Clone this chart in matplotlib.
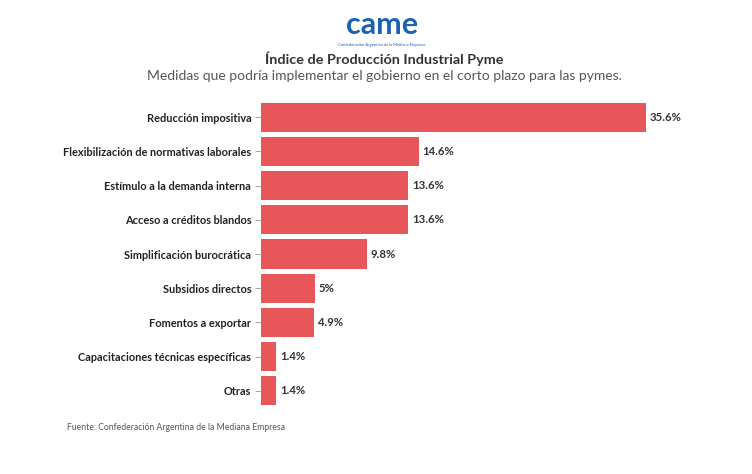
import matplotlib.pyplot as plt

plt.rcParams['font.family'] = ['Lato', 'DejaVu Sans']

categories = [
    "Reducción impositiva",
    "Flexibilización de normativas laborales",
    "Estímulo a la demanda interna",
    "Acceso a créditos blandos",
    "Simplificación burocrática",
    "Subsidios directos",
    "Fomentos a exportar",
    "Capacitaciones técnicas específicas",
    "Otras",
]
values = [35.6, 14.6, 13.6, 13.6, 9.8, 5, 4.9, 1.4, 1.4]
value_labels = ["35.6%", "14.6%", "13.6%", "13.6%", "9.8%", "5%", "4.9%", "1.4%", "1.4%"]

W, H = 752, 474
fig = plt.figure(figsize=(W / 100, H / 100), dpi=100)
ax = fig.add_axes([261 / W, 1 - 408 / H, (646 - 261) / W, (408 - 100) / H])

y = list(range(len(categories)))
ax.barh(y, values, height=0.85, color="#e9565a")
ax.set_xlim(0, 35.6)
ax.set_ylim(len(categories) - 0.5, -0.5)
ax.set_yticks(y)
ax.set_yticklabels(categories, fontsize=7.9, fontweight="bold", color="#222222")
ax.tick_params(axis="y", length=4, color="#aaaaaa", pad=3)
ax.set_xticks([])
for s in ax.spines.values():
    s.set_visible(False)

for yi, v, lab in zip(y, values, value_labels):
    ax.text(v + 0.35, yi, lab, va="center", ha="left", fontsize=8.2,
            fontweight="bold", color="#333333")

# logo
fig.text(382 / W, 1 - 25 / H, "came", ha="center", va="center", fontsize=22,
         fontweight="bold", color="#1a62b5")
fig.text(382 / W, 1 - 45 / H, "Confederación Argentina de la Mediana Empresa",
         ha="center", va="center", fontsize=3, color="#1a62b5")

fig.text(384 / W, 1 - 59 / H, "Índice de Producción Industrial Pyme", ha="center",
         va="center", fontsize=10.4, fontweight="bold", color="#333333")
fig.text(384 / W, 1 - 76 / H,
         "Medidas que podría implementar el gobierno en el corto plazo para las pymes.",
         ha="center", va="center", fontsize=10, color="#555555")
fig.text(67 / W, 1 - 428 / H, "Fuente: Confederación Argentina de la Mediana Empresa",
         ha="left", va="center", fontsize=6.2, color="#555555")

fig.savefig("out.png", dpi=100)
